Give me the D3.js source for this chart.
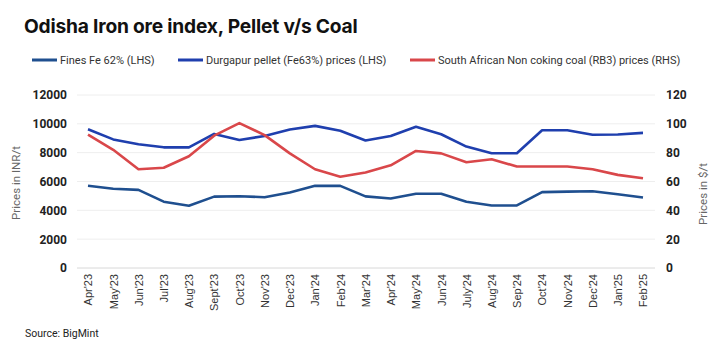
<!DOCTYPE html>
<html><head><meta charset="utf-8">
<script src="https://cdn.jsdelivr.net/npm/d3@7"></script>
<style>
body{margin:0;background:#fff;}
svg{display:block;font-family:Roboto, "Liberation Sans", sans-serif;}
</style></head>
<body><svg id="c" width="715" height="356"></svg>
<script>
const months = ["Apr'23","May'23","Jun'23","Jul'23","Aug'23","Sept'23","Oct'23","Nov'23","Dec'23","Jan'24","Feb'24","Mar'24","Apr'24","May'24","Jun'24","July'24","Aug'24","Sep'24","Oct'24","Nov'24","Dec'24","Jan'25","Feb'25"];
const fines = [5700,5500,5420,4600,4320,4950,4980,4910,5240,5700,5700,4970,4820,5150,5150,4590,4340,4340,5260,5300,5320,5110,4890];
const pellet = [9620,8920,8580,8370,8370,9300,8880,9160,9610,9860,9520,8840,9160,9800,9280,8420,7960,7960,9560,9560,9240,9260,9370];
const coal = [92.5,82,68.5,69.5,77.5,91.8,100.5,92.2,79.5,68.5,63.3,66.3,71.2,81.2,79.5,73.4,75.4,70.4,70.4,70.4,68.5,64.6,62.3];
const leftTicks = [0,2000,4000,6000,8000,10000,12000];
const rightTicks = [0,20,40,60,80,100,120];
const series = [
  {name:"Fines Fe 62% (LHS)", values:fines, axis:"L", color:"#1f4f8f"},
  {name:"Durgapur pellet (Fe63%) prices (LHS)", values:pellet, axis:"L", color:"#1f3fae"},
  {name:"South African Non coking coal (RB3) prices (RHS)", values:coal, axis:"R", color:"#d9474a"}
];

const svg = d3.select("#c");
const gx0 = 77, gx1 = 655, plotTop = 95, plotBottom = 268;
const x = d3.scalePoint().domain(months).range([88, 643]);
const yL = d3.scaleLinear().domain([0,12000]).range([plotBottom, plotTop]);
const yR = d3.scaleLinear().domain([0,120]).range([plotBottom, plotTop]);

// title
svg.append("text").attr("x",24).attr("y",33).attr("font-size",19.2).attr("font-weight",700)
  .attr("fill","#111").attr("font-family","Inter, Roboto, sans-serif").attr("letter-spacing","-0.2")
  .text("Odisha Iron ore index, Pellet v/s Coal");

// legend
const legX = [32, 178, 410];
series.forEach((s,i)=>{
  const g = svg.append("g").attr("transform",`translate(${legX[i]},60)`);
  g.append("line").attr("x1",0).attr("x2",25).attr("y1",0).attr("y2",0)
    .attr("stroke",s.color).attr("stroke-width",3);
  g.append("text").attr("x",28).attr("y",4).attr("font-size",11).attr("fill","#333").text(s.name);
});

// gridlines
svg.append("g").selectAll("line").data(leftTicks).join("line")
  .attr("x1",gx0).attr("x2",gx1).attr("y1",d=>yL(d)).attr("y2",d=>yL(d))
  .attr("stroke",d=>d===0?"#d8d8d8":"#eeeeee").attr("stroke-width",1);

// left axis
const la = svg.append("g").attr("transform",`translate(67,0)`)
  .call(d3.axisLeft(yL).tickValues(leftTicks).tickSize(0).tickPadding(0).tickFormat(d3.format("d")));
la.select(".domain").remove();
la.selectAll("text").attr("font-size",12).attr("font-weight",700).attr("fill","#222").attr("font-family","Roboto, sans-serif");

// right axis
const ra = svg.append("g").attr("transform",`translate(666,0)`)
  .call(d3.axisRight(yR).tickValues(rightTicks).tickSize(0).tickPadding(0));
ra.select(".domain").remove();
ra.selectAll("text").attr("font-size",12).attr("font-weight",700).attr("fill","#222").attr("font-family","Roboto, sans-serif");

// x axis
const xa = svg.append("g").attr("transform",`translate(0,${plotBottom+6})`)
  .call(d3.axisBottom(x).tickSize(0).tickPadding(0));
xa.select(".domain").remove();
xa.selectAll("text").attr("font-size",11).attr("fill","#333")
  .attr("transform","rotate(-90)").attr("text-anchor","end").attr("dx",0).attr("dy","0.35em").attr("y",0).attr("x",0);

// axis titles
svg.append("text").attr("transform","translate(20,183) rotate(-90)").attr("text-anchor","middle")
  .attr("font-size",11.5).attr("fill","#666").text("Prices in INR/t");
svg.append("text").attr("transform","translate(707,194) rotate(-90)").attr("text-anchor","middle")
  .attr("font-size",11.5).attr("fill","#666").text("Prices in $/t");

// lines
series.forEach(s=>{
  const y = s.axis==="L"?yL:yR;
  const line = d3.line().x((d,i)=>x(months[i])).y(d=>y(d));
  svg.append("path").datum(s.values).attr("d",line).attr("fill","none")
    .attr("stroke",s.color).attr("stroke-width",2.6).attr("stroke-linejoin","round");
});

// source
svg.append("text").attr("x",25).attr("y",337).attr("font-size",10.5).attr("fill","#222").text("Source: BigMint");
</script></body></html>
